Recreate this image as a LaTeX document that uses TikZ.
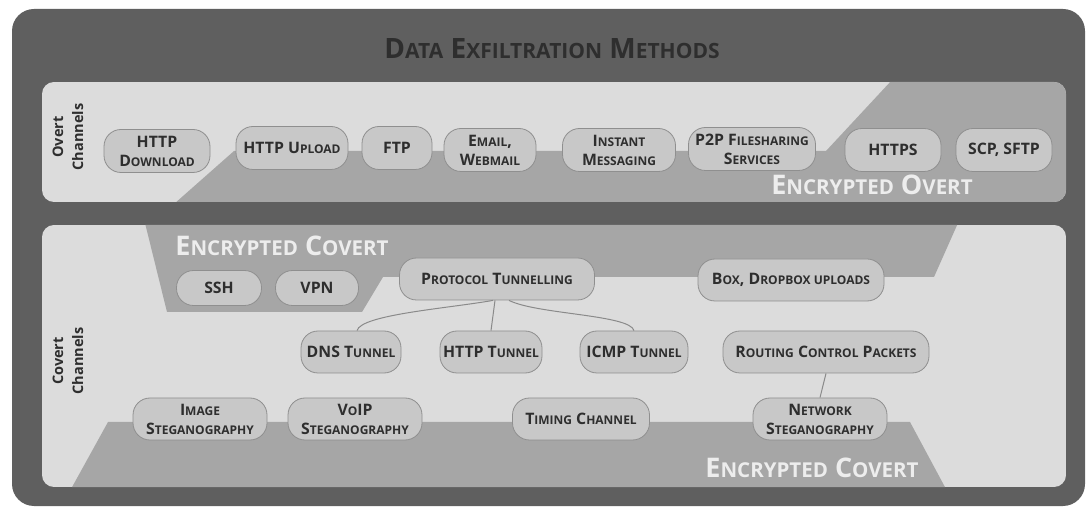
\documentclass[tikz,border=0pt]{standalone}
\usepackage{fontspec}
\setmainfont{Open Sans}
\definecolor{framegray}{HTML}{5F5F5F}
\definecolor{panelfill}{HTML}{DCDCDC}
\definecolor{bandfill}{HTML}{A6A6A6}
\definecolor{methodfill}{HTML}{C8C8C8}
\definecolor{methodline}{HTML}{8F8F8F}
\definecolor{textdark}{HTML}{2E2E2E}
\definecolor{bandtext}{HTML}{EDEDED}
\definecolor{linkgray}{HTML}{8A8A8A}
\newcommand{\lc}[1]{{\fontsize{12}{19}\selectfont #1}}
\newcommand{\Lc}[1]{{\fontsize{21}{26}\selectfont #1}}
\newcommand{\Bc}[1]{{\fontsize{20.5}{26}\selectfont #1}}
\tikzset{
  method/.style={draw=methodline,line width=.8pt,fill=methodfill,rounded corners=17pt,align=center,text=textdark,font=\bfseries\fontsize{15.8}{19}\selectfont,inner xsep=2pt,inner ysep=1pt},
  overt/.style={method,minimum height=43pt},
  covert/.style={method,minimum height=42pt},
  title/.style={font=\bfseries\fontsize{28}{32}\selectfont,text=textdark},
  bandlabel/.style={font=\bfseries\fontsize{27}{30}\selectfont,text=bandtext},
  chanlabel/.style={rotate=90,align=center,font=\bfseries\fontsize{14.5}{20}\selectfont,text=textdark},
  link/.style={draw=linkgray,line width=1pt}
}

\begin{document}
\begin{tikzpicture}[x=1pt,y=-1pt]
  \useasboundingbox (0,0) rectangle (1090,510);
  % Outer frame and title.
  \fill[framegray,rounded corners=22pt] (12,9) rectangle (1085,506);
  \node[title] (title) at (552,49) {D\Lc{ATA} E\Lc{XFILTRATION} M\Lc{ETHODS}};

  % Overt panel, the encrypted part cut to its corners.
  \begin{scope}
    \clip[rounded corners=12pt] (42,82) rectangle (1066,202);
    \fill[panelfill] (42,82) rectangle (1066,202);
    \fill[bandfill] (174,204) -- (234,151) -- (826,151) -- (892,80) -- (1070,80) -- (1070,204) -- cycle;
  \end{scope}

  % Covert panel with its two encrypted bands.
  \begin{scope}
    \clip[rounded corners=12pt] (42,225) rectangle (1066,487);
    \fill[panelfill] (42,225) rectangle (1066,487);
    \fill[bandfill] (145,223) -- (167,312) -- (362,312) -- (383,277) -- (934,277) -- (958,223) -- cycle;
    \fill[bandfill] (71,489) -- (108,422) -- (910,422) -- (946,489) -- cycle;
  \end{scope}

  \node[chanlabel] (overtlabel) at (68,137) {Overt\\Channels};
  \node[chanlabel] (covertlabel) at (68,361) {Covert\\Channels};
  \node[bandlabel] (encovert) at (872,185) {E\Bc{NCRYPTED} O\Bc{VERT}};
  \node[bandlabel] (encupper) at (282,246) {E\Bc{NCRYPTED} C\Bc{OVERT}};
  \node[bandlabel] (enclower) at (812,468) {E\Bc{NCRYPTED} C\Bc{OVERT}};

  % Overt methods.
  \node[overt,minimum width=106pt] (httpdown) at (157,151) {HTTP\\D\lc{OWNLOAD}};
  \node[overt,minimum width=112pt] (httpup) at (292,148) {HTTP U\lc{PLOAD}};
  \node[overt,minimum width=70pt] (ftp) at (397,148) {FTP};
  \node[overt,minimum width=92pt] (email) at (490,150) {E\lc{MAIL},\\W\lc{EBMAIL}};
  \node[overt,minimum width=113pt] (instant) at (619,150) {I\lc{NSTANT}\\M\lc{ESSAGING}};
  \node[overt,minimum width=127pt] (ptwop) at (752,149) {P2P F\lc{ILESHARING}\\S\lc{ERVICES}};
  \node[overt,minimum width=96pt] (https) at (893,150) {HTTPS};
  \node[overt,minimum width=96pt] (scp) at (1004,150) {SCP, SFTP};

  % Covert methods.
  \node[covert,minimum width=85pt,minimum height=35pt] (ssh) at (219,288) {SSH};
  \node[covert,minimum width=83pt,minimum height=35pt] (vpn) at (317,288) {VPN};
  \node[covert,minimum width=195pt] (proto) at (497,279) {P\lc{ROTOCOL} T\lc{UNNELLING}};
  \node[covert,minimum width=186pt] (dropbox) at (791,280) {B\lc{OX}, D\lc{ROPBOX UPLOADS}};
  \node[covert,minimum width=100pt] (dns) at (351,352) {DNS T\lc{UNNEL}};
  \node[covert,minimum width=102pt] (httptun) at (491,352) {HTTP T\lc{UNNEL}};
  \node[covert,minimum width=108pt] (icmp) at (634,352) {ICMP T\lc{UNNEL}};
  \node[covert,minimum width=206pt] (routing) at (826,352) {R\lc{OUTING} C\lc{ONTROL} P\lc{ACKETS}};
  \node[covert,minimum width=134pt] (imgsteg) at (200,419) {I\lc{MAGE}\\S\lc{TEGANOGRAPHY}};
  \node[covert,minimum width=134pt] (voipsteg) at (355,419) {V\lc{O}IP\\S\lc{TEGANOGRAPHY}};
  \node[covert,minimum width=137pt] (timing) at (581,419) {T\lc{IMING} C\lc{HANNEL}};
  \node[covert,minimum width=134pt] (netsteg) at (820,419) {N\lc{ETWORK}\\S\lc{TEGANOGRAPHY}};

  % Tunnelling variants and the packet link.
  \draw[link] ([xshift=-4pt]proto.south) .. controls +(-45,8) and +(4,-16) .. ([xshift=6pt]dns.north);
  \draw[link] ([xshift=-2pt]proto.south) -- (httptun.north);
  \draw[link] ([xshift=12pt]proto.south) .. controls +(28,14) and +(-4,-16) .. (icmp.north);
  \draw[link] (routing.south) -- (netsteg.north);
\end{tikzpicture}
\end{document}
